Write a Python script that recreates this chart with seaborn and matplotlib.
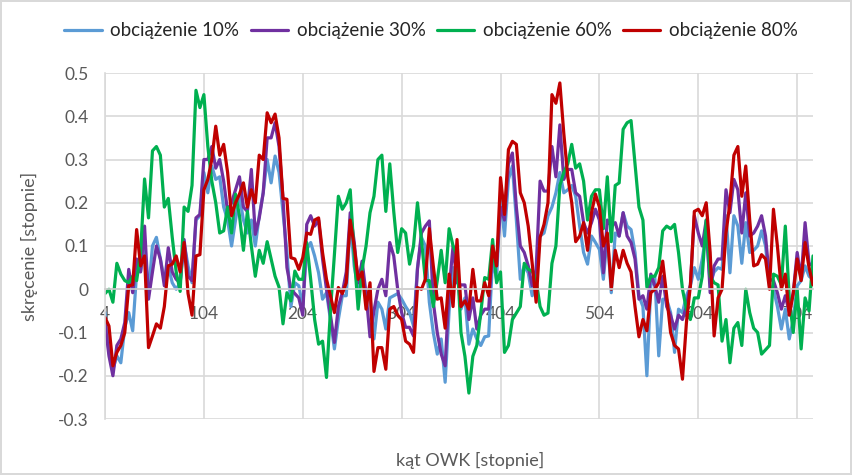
"""Torsion vs crank angle for four load levels (Excel-style line chart)."""

import matplotlib

matplotlib.use("Agg")

import matplotlib.pyplot as plt
import pandas as pd
import seaborn as sns
from matplotlib.ticker import FuncFormatter

ANGLES = list(range(4, 721, 4))

LOAD_10 = [
    -0.054, -0.146, -0.185, -0.154, -0.17, -0.088, -0.054, -0.096, 0.038, 0.042,
    0.092, -0.008, 0.1, 0.12, 0.07, 0.023, 0.054, 0.015, 0.0, 0.015,
    0.108, 0.054, 0.015, 0.16, 0.17, 0.27, 0.223, 0.285, 0.254, 0.26,
    0.19, 0.16, 0.1, 0.16, 0.215, 0.16, 0.13, 0.16, 0.1, 0.17,
    0.223, 0.3, 0.246, 0.308, 0.27, 0.177, 0.085, -0.04, 0.015, 0.008,
    -0.04, 0.092, 0.108, 0.077, 0.038, -0.023, -0.008, -0.07, -0.138, -0.07,
    -0.015, -0.015, 0.16, 0.054, 0.0, 0.03, -0.015, -0.015, -0.115, -0.03,
    -0.046, -0.092, -0.02, -0.015, -0.01, -0.023, -0.04, -0.054, -0.085, 0.05,
    0.12, 0.1, -0.03, -0.1, -0.15, -0.115, -0.215, -0.05, 0.05, 0.04,
    -0.046, -0.02, -0.127, -0.092, -0.115, -0.13, -0.11, -0.108, 0.07, 0.023,
    0.215, 0.123, 0.254, 0.285, 0.16, 0.023, 0.054, 0.038, -0.015, 0.023,
    0.123, 0.13, 0.17, 0.19, 0.223, 0.27, 0.223, 0.23, 0.24, 0.215,
    0.146, 0.085, 0.058, 0.123, 0.108, 0.092, 0.023, 0.123, -0.008, 0.13,
    0.123, 0.177, 0.146, 0.138, 0.085, -0.015, -0.04, -0.2, 0.008, 0.03,
    -0.154, -0.023, -0.023, -0.054, -0.146, -0.046, -0.054, -0.015, 0.008, 0.05,
    0.023, 0.07, 0.13, 0.015, 0.04, 0.05, 0.046, 0.17, 0.038, 0.17,
    0.146, 0.06, 0.154, 0.085, 0.09, 0.1, 0.135, 0.1, 0.008, 0.0,
    -0.04, -0.092, -0.046, -0.115, -0.07, 0.008, 0.02, 0.054, 0.03, 0.023,
]

LOAD_30 = [
    -0.077, -0.154, -0.2, -0.13, -0.115, -0.077, 0.046, -0.008, 0.07, 0.04,
    0.146, -0.023, 0.04, 0.1, 0.07, 0.008, 0.096, 0.04, 0.023, 0.015,
    0.115, 0.03, 0.02, 0.165, 0.173, 0.3, 0.3, 0.33, 0.28, 0.3,
    0.25, 0.18, 0.2, 0.23, 0.26, 0.19, 0.18, 0.277, 0.127, 0.165,
    0.223, 0.35, 0.35, 0.385, 0.33, 0.21, 0.05, 0.0, -0.01, -0.02,
    -0.06, 0.15, 0.17, 0.146, 0.16, 0.07, 0.0, -0.06, -0.123, -0.04,
    -0.008, 0.04, 0.177, 0.11, 0.015, 0.065, -0.01, -0.11, -0.05, 0.0,
    0.023, -0.015, 0.108, 0.077, 0.0, -0.054, -0.088, -0.088, -0.108, 0.046,
    0.13, 0.146, 0.158, -0.03, -0.1, -0.15, -0.177, 0.0, 0.1, 0.015,
    0.01, 0.01, -0.07, -0.02, -0.092, -0.06, -0.046, -0.046, 0.096, 0.054,
    0.19, 0.16, 0.29, 0.315, 0.19, 0.1, 0.085, 0.054, 0.008, 0.046,
    0.25, 0.227, 0.227, 0.33, 0.26, 0.38, 0.254, 0.277, 0.277, 0.223,
    0.215, 0.154, 0.13, 0.154, 0.185, 0.16, 0.038, 0.16, 0.146, 0.154,
    0.123, 0.177, 0.123, 0.108, 0.07, -0.023, -0.015, -0.046, 0.035, 0.008,
    -0.03, 0.03, -0.04, -0.06, -0.092, -0.06, -0.07, -0.04, 0.01, 0.17,
    0.13, 0.1, 0.16, -0.008, 0.054, 0.07, 0.07, 0.23, 0.177, 0.254,
    0.23, 0.13, 0.223, 0.123, 0.13, 0.146, 0.17, 0.123, 0.023, 0.02,
    -0.008, -0.046, -0.015, -0.054, -0.008, 0.085, 0.023, 0.154, 0.06, 0.054,
]

LOAD_60 = [
    -0.01, 0.0, -0.03, 0.06, 0.035, 0.02, 0.015, 0.03, 0.02, 0.085,
    0.255, 0.165, 0.32, 0.33, 0.31, 0.19, 0.21, 0.12, 0.04, -0.005,
    0.19, 0.18, 0.24, 0.46, 0.42, 0.45, 0.33, 0.25, 0.2, 0.13,
    0.135, 0.19, 0.13, 0.22, 0.17, 0.09, 0.18, 0.1, 0.03, 0.09,
    0.06, 0.11, 0.07, 0.03, 0.005, -0.08, -0.008, -0.027, 0.042, 0.023,
    0.023, 0.108, 0.023, -0.07, -0.127, -0.12, -0.204, -0.05, 0.08, 0.215,
    0.185, 0.2, 0.23, 0.08, -0.046, 0.046, 0.1, 0.177, 0.215, 0.3,
    0.31, 0.18, 0.29, 0.18, 0.085, 0.14, 0.13, 0.058, 0.1, 0.2,
    0.115, 0.02, 0.02, -0.04, 0.02, 0.09, 0.015, 0.14, 0.1, 0.077,
    -0.1, -0.155, -0.24, -0.155, -0.13, -0.055, 0.027, 0.023, 0.115, 0.015,
    0.04, -0.146, -0.13, -0.07, -0.055, -0.04, 0.06, 0.046, 0.042, 0.02,
    -0.04, -0.06, -0.055, 0.06, 0.1, 0.24, 0.27, 0.29, 0.335, 0.28,
    0.29, 0.25, 0.16, 0.215, 0.23, 0.23, 0.14, 0.26, 0.11, 0.24,
    0.246, 0.37, 0.385, 0.39, 0.29, 0.19, 0.16, 0.005, 0.03, 0.03,
    0.05, 0.135, 0.146, 0.14, 0.15, 0.085, 0.0, -0.046, -0.07, -0.02,
    -0.02, 0.03, 0.16, 0.03, 0.015, 0.01, -0.12, -0.07, -0.17, -0.09,
    -0.077, -0.13, 0.0, -0.054, -0.09, -0.1, -0.15, -0.14, -0.13, 0.035,
    0.03, 0.01, 0.146, -0.02, -0.1, 0.0, -0.138, -0.02, -0.05, 0.077,
]

LOAD_80 = [
    -0.065, -0.085, -0.177, -0.146, -0.13, -0.1, 0.008, 0.01, 0.138, 0.054,
    0.077, -0.135, -0.108, -0.08, -0.09, -0.04, 0.054, 0.058, 0.077, 0.04,
    0.108, -0.01, -0.06, 0.077, 0.08, 0.23, 0.254, 0.3, 0.377, 0.31,
    0.335, 0.27, 0.17, 0.2, 0.22, 0.246, 0.19, 0.23, 0.2, 0.31,
    0.3, 0.408, 0.385, 0.405, 0.35, 0.21, 0.208, 0.073, 0.07, 0.046,
    0.073, 0.13, 0.127, 0.16, 0.165, 0.085, 0.023, -0.015, -0.054, 0.004,
    -0.01, 0.015, 0.16, 0.1, 0.023, 0.04, -0.046, 0.015, -0.19, -0.135,
    -0.135, -0.185, -0.046, -0.04, -0.06, -0.07, -0.12, -0.127, -0.146, 0.004,
    0.0, 0.023, 0.14, 0.054, -0.023, -0.02, -0.09, 0.035, -0.04, 0.115,
    -0.04, -0.027, -0.046, 0.046, -0.027, -0.027, 0.015, -0.015, 0.1, 0.054,
    0.258, 0.173, 0.323, 0.342, 0.335, 0.223, 0.2, 0.146, 0.06, -0.03,
    0.12, 0.15, 0.2, 0.45, 0.43, 0.477, 0.36, 0.26, 0.2, 0.11,
    0.123, 0.154, 0.09, 0.177, 0.22, 0.19, 0.1, 0.13, 0.0, 0.09,
    0.05, 0.09, 0.06, 0.04, -0.04, -0.11, -0.07, -0.096, -0.008, 0.0,
    0.015, 0.065, -0.015, -0.1, -0.13, -0.138, -0.208, -0.077, 0.008, 0.18,
    0.185, 0.17, 0.2, 0.085, -0.108, -0.02, 0.0, 0.13, 0.2, 0.31,
    0.33, 0.215, 0.285, 0.16, 0.054, 0.058, 0.08, 0.07, 0.0, 0.185,
    0.1, 0.0, 0.035, -0.06, -0.01, 0.07, 0.02, 0.108, 0.05, 0.01,
]

SERIES_NAMES = ["obciążenie 10%", "obciążenie 30%", "obciążenie 60%", "obciążenie 80%"]
SERIES_COLORS = ["#5B9BD5", "#7030A0", "#00B050", "#C00000"]
X_TICKS = [4, 104, 204, 304, 404, 504, 604, 704]
Y_TICKS = [-0.3, -0.2, -0.1, 0.0, 0.1, 0.2, 0.3, 0.4, 0.5]

TEXT_GRAY = "#595959"
GRID_GRAY = "#D9D9D9"


def _build_frame() -> pd.DataFrame:
    wide = pd.DataFrame(
        {
            "kat": ANGLES,
            SERIES_NAMES[0]: LOAD_10,
            SERIES_NAMES[1]: LOAD_30,
            SERIES_NAMES[2]: LOAD_60,
            SERIES_NAMES[3]: LOAD_80,
        }
    )
    return wide.melt(id_vars="kat", var_name="seria", value_name="skrecenie")


def _y_label(value: float, _pos: int) -> str:
    if abs(value) < 1e-9:
        return "0"
    return f"{value:.1f}"


def main() -> None:
    sns.set_style("white")
    plt.rcParams["font.family"] = ["Lato", "DejaVu Sans"]

    frame = _build_frame()

    fig = plt.figure(figsize=(8.52, 4.75), dpi=100)
    fig.patch.set_edgecolor(GRID_GRAY)
    fig.patch.set_linewidth(1.5)
    ax = fig.add_axes([105 / 852, 1 - 419 / 475, 708 / 852, 346 / 475])

    sns.lineplot(
        data=frame,
        x="kat",
        y="skrecenie",
        hue="seria",
        hue_order=SERIES_NAMES,
        palette=SERIES_COLORS,
        estimator=None,
        linewidth=2.3,
        ax=ax,
    )

    ax.set_xlim(4, 720)
    ax.set_ylim(-0.3, 0.5)
    ax.set_xticks(X_TICKS)
    ax.set_yticks(Y_TICKS)
    ax.yaxis.set_major_formatter(FuncFormatter(_y_label))

    ax.grid(True, color=GRID_GRAY, linewidth=1.2)
    ax.set_axisbelow(True)
    for side in ("top", "right"):
        ax.spines[side].set_visible(False)
    ax.spines["left"].set_color(GRID_GRAY)
    ax.spines["left"].set_linewidth(1.2)
    ax.spines["bottom"].set_position(("data", 0))
    ax.spines["bottom"].set_color("#CFCFCF")
    ax.spines["bottom"].set_linewidth(1.2)

    ax.tick_params(axis="both", length=0, colors=TEXT_GRAY, labelsize=12.5)
    ax.tick_params(axis="x", pad=12)
    ax.tick_params(axis="y", pad=12)

    ax.set_xlabel("kąt OWK [stopnie]", fontsize=13, color=TEXT_GRAY)
    ax.set_ylabel("skręcenie [stopnie]", fontsize=13, color=TEXT_GRAY)
    ax.xaxis.set_label_coords(0.5155, -0.095)
    ax.yaxis.set_label_coords(-0.095, 0.5)

    sns.move_legend(
        ax,
        "upper center",
        bbox_to_anchor=(0.4605, 1.195),
        ncol=4,
        frameon=False,
        title=None,
        fontsize=13.5,
        handlelength=2.0,
        columnspacing=0.6,
        handletextpad=0.45,
    )

    fig.savefig("out.png", dpi=100)
    plt.close(fig)


if __name__ == "__main__":
    main()
